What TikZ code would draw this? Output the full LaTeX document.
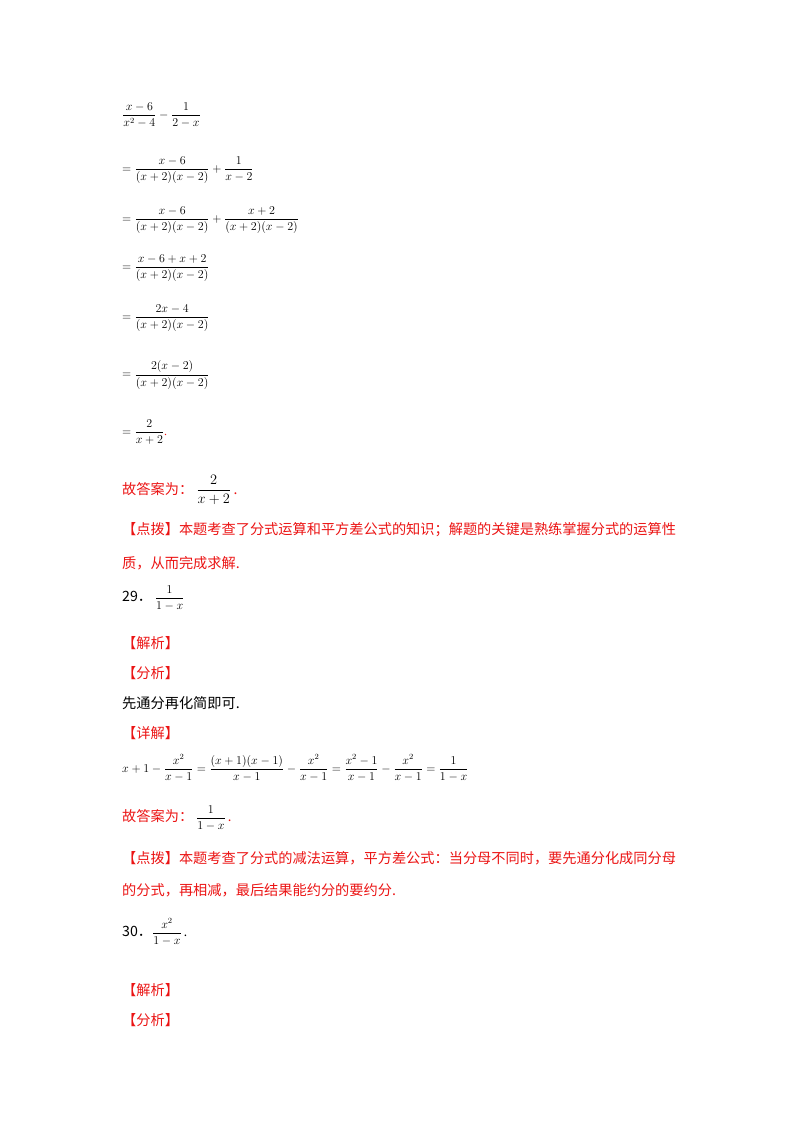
\documentclass[tikz,border=0pt]{standalone}
\usepackage{amsmath}
\usepackage{fontspec}
\setmainfont{Liberation Serif}
\newfontfamily\cjk{Noto Sans CJK SC}
\definecolor{rd}{RGB}{235,20,20}
\begin{document}
\begin{tikzpicture}[x=1pt,y=-1pt,
  m/.style={anchor=west,inner sep=0pt,font=\fontsize{12}{14}\selectfont},
  t/.style={anchor=west,inner sep=0pt,font=\cjk\fontsize{14.2}{16}\selectfont},
  r/.style={t,text=rd}]
\useasboundingbox (0,0) rectangle (800,1132);
\node[m] (e1) at (122,115) {$\dfrac{x-6}{x^2-4}-\dfrac{1}{2-x}$};
\node[m] (e2) at (122,170) {$=\dfrac{x-6}{(x+2)(x-2)}+\dfrac{1}{x-2}$};
\node[m] (e3) at (122,220) {$=\dfrac{x-6}{(x+2)(x-2)}+\dfrac{x+2}{(x+2)(x-2)}$};
\node[m] (e4) at (122,268) {$=\dfrac{x-6+x+2}{(x+2)(x-2)}$};
\node[m] (e5) at (122,318) {$=\dfrac{2x-4}{(x+2)(x-2)}$};
\node[m] (e6) at (122,375) {$=\dfrac{2(x-2)}{(x+2)(x-2)}$};
\node[m] (e7) at (122,432) {$=\dfrac{2}{x+2}$\textcolor{rd}{.}};
\node[r] (a1) at (122,490) {故答案为：\fontsize{14}{16}\selectfont\ \textcolor{black}{$\dfrac{2}{x+2}$}\,.};
\node[r] (p1) at (122,530) {【点拨】本题考查了分式运算和平方差公式的知识；解题的关键是熟练掌握分式的运算性};
\node[r] (p2) at (122,563) {质，从而完成求解.};
\node[t] (q29) at (122,598) {29．\fontsize{12}{14}\selectfont\ $\dfrac{1}{1-x}$};
\node[r] (j1) at (122,643) {【解析】};
\node[r] (f1) at (122,673) {【分析】};
\node[t] (s1) at (122,703) {先通分再化简即可.};
\node[r] (x1) at (122,733) {【详解】};
\node[m,font=\fontsize{11.5}{14}\selectfont] (eq) at (122,768) {$x+1-\dfrac{x^2}{x-1}=\dfrac{(x+1)(x-1)}{x-1}-\dfrac{x^2}{x-1}=\dfrac{x^2-1}{x-1}-\dfrac{x^2}{x-1}=\dfrac{1}{1-x}$};
\node[r] (a2) at (122,818) {故答案为：\fontsize{13}{15}\selectfont\ \textcolor{black}{$\dfrac{1}{1-x}$}\,.};
\node[r] (p3) at (122,858) {【点拨】本题考查了分式的减法运算，平方差公式：当分母不同时，要先通分化成同分母};
\node[r] (p4) at (122,890) {的分式，再相减，最后结果能约分的要约分.};
\node[t] (q30) at (122,932) {30．\fontsize{12}{14}\selectfont$\dfrac{x^2}{1-x}$\,.};
\node[r] (j2) at (122,990) {【解析】};
\node[r] (f2) at (122,1020) {【分析】};
\end{tikzpicture}
\end{document}
